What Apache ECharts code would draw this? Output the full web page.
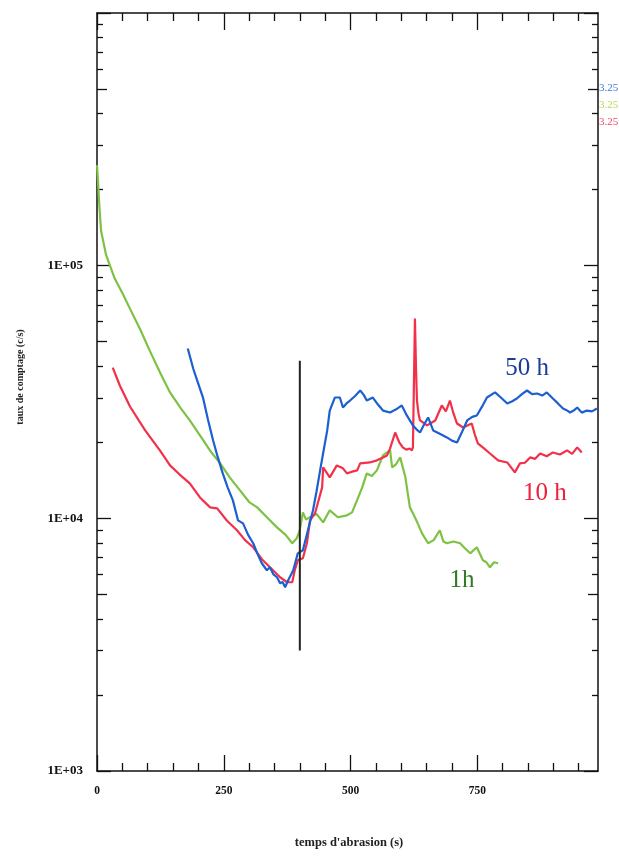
<!DOCTYPE html>
<html><head><meta charset="utf-8">
<script src="https://cdn.jsdelivr.net/npm/echarts@6/dist/echarts.min.js"></script>
<style>html,body{margin:0;padding:0;background:#fff}#c{width:619px;height:856px}</style>
</head><body><div id="c"></div>
<script>
// ---- data ----
const xMax = 988;
const xTicksMajor = [0, 250, 500, 750];
const xTicksMinor = [50,100,150,200,300,350,400,450,550,600,650,700,800,850,900,950];
const yLabels = [1e3, 1e4, 1e5];
const yTicksMajor = [1e3, 1e4, 1e5, 1e6];
const yTicksMid = [5e3, 5e4, 5e5];
const yTicksMinor = [2e3,3e3,4e3,6e3,7e3,8e3,9e3,2e4,3e4,4e4,6e4,7e4,8e4,9e4,2e5,3e5,4e5,6e5,7e5,8e5,9e5];

const green1h = [[0,250000],[2,215000],[4,181000],[8,137500],[18,110000],[35,88900],[50,78000],[65,67600],[85,56000],[104,46100],[125,37500],[144,31500],[165,27300],[183,24400],[205,21000],[225,18300],[243,16500],[262,14500],[282,12900],[300,11600],[316,11050],[335,10100],[355,9210],[372,8600],[385,7970],[394,8340],[400,9000],[406,10560],[412,9900],[420,10090],[433,10400],[446,9640],[459,10760],[475,10100],[493,10280],[503,10560],[513,11800],[523,13260],[532,15060],[542,14700],[552,15480],[564,17740],[572,18230],[578,18570],[582,15910],[590,16400],[598,17420],[603,15910],[608,14600],[617,11050],[623,10470],[632,9600],[641,8720],[653,7970],[664,8200],[676,8970],[683,8100],[690,7970],[703,8100],[716,7970],[726,7600],[736,7270],[749,7680],[761,6820],[768,6700],[775,6400],[783,6700],[791,6640]];

const red10h = [[31,39500],[45,33550],[65,27700],[95,22280],[124,18570],[144,16200],[163,14900],[183,13750],[203,12100],[223,11050],[237,10950],[256,9800],[276,8970],[292,8200],[308,7680],[327,6820],[341,6400],[361,5845],[375,5585],[385,5585],[390,6230],[396,6820],[406,6950],[414,7970],[420,9820],[430,10470],[444,13260],[446,15910],[459,14520],[473,16200],[485,15770],[493,15060],[503,15300],[513,15480],[519,16500],[538,16640],[552,16960],[564,17420],[572,17740],[578,18910],[588,21870],[596,20000],[603,19090],[610,18700],[617,18910],[621,18570],[623,19090],[627,61780],[629,40000],[631,29250],[634,26000],[637,24400],[651,23320],[667,24400],[680,27970],[688,26500],[696,29250],[703,26000],[710,23730],[722,22880],[739,23730],[745,21500],[751,19790],[762,19000],[775,18050],[791,16960],[809,16640],[824,15200],[834,16500],[844,16600],[854,17420],[864,17200],[874,18050],[887,17600],[899,18230],[913,17900],[927,18570],[937,18000],[947,19090],[956,18230]];

const blue50h = [[179,46980],[190,39000],[200,34000],[209,30070],[219,24500],[229,20330],[238,17500],[248,15060],[258,13200],[268,11780],[278,9820],[288,9550],[298,8600],[308,7970],[317,7200],[325,6640],[335,6230],[341,6400],[348,6000],[355,5845],[361,5535],[366,5600],[371,5335],[377,5690],[387,6230],[396,7270],[406,7480],[416,8970],[426,10760],[433,12800],[440,15480],[447,18600],[454,22280],[459,26700],[469,30070],[479,30070],[485,27450],[492,28500],[499,29250],[509,30500],[519,32060],[526,30800],[532,29250],[544,30070],[554,28200],[564,26700],[578,26240],[590,27000],[601,27970],[611,25540],[623,23320],[630,22500],[637,21870],[645,23500],[653,25080],[663,22280],[676,21600],[690,20900],[700,20300],[710,19970],[720,22000],[730,24400],[740,25200],[749,25540],[759,27600],[769,30070],[785,31500],[797,30000],[809,28480],[818,29000],[828,29800],[838,31000],[848,32060],[858,31000],[868,31190],[878,30600],[887,31500],[899,29800],[909,28500],[919,27210],[926,26800],[933,26240],[940,26700],[947,27450],[956,26200],[966,26700],[976,26500],[986,27210]];

const markerLine = [[400,3000],[400,42000]];
const tagText = ['50 h', '10 h', '1h'];
const tagAt = [[848,39170],[883,12560],[720,5690]];
const cornerTexts = ['3.25', '3.25', '3.25'];

// ---- chart ----
const ink = '#111';
const serif = '"Liberation Serif","DejaVu Serif",serif';
const C = { blue:'#1c5fd0', red:'#f2304a', green:'#7dc243' };
const tagColors = ['#1a3d9c', '#f0203c', '#2e7d22'];

function xAx(pos, ticks, len, showLine, labels) {
  return {
    type:'value', min:0, max:xMax, position:pos, gridIndex:0,
    splitLine:{show:false},
    axisLine:{show:showLine, onZero:false, lineStyle:{color:ink, width:1.5}},
    axisTick:{show:true, inside:true, length:len, customValues:ticks, lineStyle:{color:ink, width:1.3}},
    axisLabel: labels ? {show:true, customValues:labels, margin:14, color:'#111', fontFamily:serif, fontWeight:'bold', fontSize:11.5} : {show:false}
  };
}
function yAx(pos, ticks, len, showLine, labels) {
  return {
    type:'log', logBase:10, min:1e3, max:1e6, position:pos, gridIndex:0,
    splitLine:{show:false}, minorSplitLine:{show:false},
    axisLine:{show:showLine, onZero:false, lineStyle:{color:ink, width:1.5}},
    axisTick:{show:true, inside:true, length:len, customValues:ticks, lineStyle:{color:ink, width:1.3}},
    axisLabel: labels ? {show:true, customValues:labels, margin:14, color:'#111', fontFamily:serif, fontWeight:'bold', fontSize:13,
      formatter: v => '1E+0' + Math.round(Math.log10(v))} : {show:false}
  };
}

function line(name, data, color, tagIdx) {
  const s = {
    name, type:'line', data, xAxisIndex:0, yAxisIndex:0,
    symbol:'none', showSymbol:false, smooth:false,
    lineStyle:{color, width:2.2}, itemStyle:{color}, z:3
  };
  if (tagIdx != null) {
    s.markPoint = {
      symbol:'rect', symbolSize:1, itemStyle:{color:'rgba(0,0,0,0)'},
      data:[{ coord: tagAt[tagIdx], label:{show:true, position:'inside', formatter: tagText[tagIdx],
        color: tagColors[tagIdx], fontFamily: serif, fontSize: 25 } }]
    };
  }
  return s;
}

const chart = echarts.init(document.getElementById('c'), null, {renderer:'canvas'});
chart.setOption({
  animation:false,
  backgroundColor:'#fff',
  grid:{left:97, right:21, top:13, bottom:85, containLabel:false},
  xAxis:[
    xAx('bottom', xTicksMajor, 16, true, xTicksMajor),
    xAx('bottom', xTicksMinor, 8, false, null),
    xAx('top', xTicksMajor, 17, true, null),
    xAx('top', xTicksMinor, 8, false, null)
  ],
  yAxis:[
    yAx('left', yTicksMajor, 14, true, yLabels),
    yAx('left', yTicksMid, 10, false, null),
    yAx('left', yTicksMinor, 6, false, null),
    yAx('right', yTicksMajor, 14, true, null),
    yAx('right', yTicksMid, 10, false, null),
    yAx('right', yTicksMinor, 6, false, null)
  ],
  series:[
    line('1h', green1h, C.green, 2),
    line('10h', red10h, C.red, 1),
    line('50h', blue50h, C.blue, 0),
    { type:'line', data:markerLine, symbol:'none', lineStyle:{color:'#222', width:2}, z:4 }
  ],
  graphic:[
    { type:'text', x:349, y:843, style:{ text:"temps d'abrasion (s)", fill:'#222', font:'bold 12.5px ' + serif, align:'center', verticalAlign:'middle' } },
    { type:'text', x:20, y:377, rotation:Math.PI/2, style:{ text:'taux de comptage (c/s)', fill:'#222', font:'bold 10px ' + serif, align:'center', verticalAlign:'middle' } },
    { type:'text', x:599, y:88, style:{ text:cornerTexts[0], fill:'#3b78d8', font:'11px ' + serif, verticalAlign:'middle' } },
    { type:'text', x:599, y:105, style:{ text:cornerTexts[1], fill:'#b6d65a', font:'11px ' + serif, verticalAlign:'middle' } },
    { type:'text', x:599, y:122, style:{ text:cornerTexts[2], fill:'#f04a6a', font:'11px ' + serif, verticalAlign:'middle' } }
  ]
});
</script>
</body></html>
